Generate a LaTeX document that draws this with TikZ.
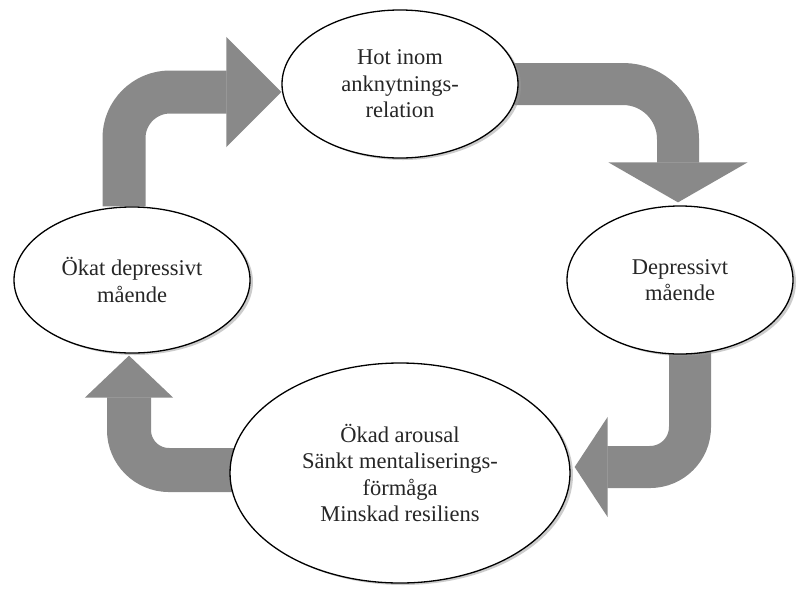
\documentclass[tikz,border=0pt]{standalone}
\usepackage{fontspec}
\setmainfont{Liberation Serif}
\usetikzlibrary{arrows.meta,shapes.geometric,shadows,backgrounds}
\definecolor{cycleGray}{HTML}{898989}
\definecolor{cycleInk}{HTML}{262626}
\definecolor{cycleShade}{HTML}{9A9A9A}

\begin{document}
\begin{tikzpicture}[x=1pt,y=-1pt,line join=round]
\useasboundingbox (0,0) rectangle (800,590);
\tikzset{state/.style={ellipse,draw=black,line width=1.3pt,fill=white,inner sep=0pt,align=center,text=cycleInk,font=\fontsize{22.5}{26.5}\selectfont,drop shadow={shadow xshift=3pt,shadow yshift=-2pt,fill=cycleShade,opacity=0.5}},loopshaft/.style={draw=cycleGray,line cap=butt,line join=miter}}
\node[state,minimum width=236pt,minimum height=148pt] (hot) at (400,84) {Hot inom\\anknytnings-\\relation};
\node[state,minimum width=226pt,minimum height=148pt] (dep) at (680,280) {Depressivt\\mående};
\node[state,minimum width=236pt,minimum height=146pt] (okat) at (132,280) {Ökat depressivt\\mående};
\node[state,minimum width=340pt,minimum height=220pt] (okad) at (400,473) {Ökad arousal\\Sänkt mentaliserings-\\förmåga\\Minskad resiliens};
\begin{scope}[on background layer]
\path[fill=white] (0,0) rectangle (800,590);
% block arrows round the cycle
\draw[loopshaft,line width=43pt,rounded corners=46pt,-{Triangle[width=110pt,length=55pt,line width=1.5pt]}] ([xshift=-8pt]okat.north) |- ([yshift=-8pt]hot.west);
\draw[loopshaft,line width=42pt,rounded corners=55pt,-{Triangle[width=139pt,length=40pt,line width=1.5pt]}] ([xshift=-6pt]hot.east) -| ([shift={(-2pt,3pt)}]dep.north);
\draw[loopshaft,line width=42pt,rounded corners=40pt,-{Triangle[width=100pt,length=33pt,line width=1.5pt]}] ([shift={(10pt,4pt)}]dep.south) |- ([shift={(4pt,6pt)}]okad.east);
\draw[loopshaft,line width=44pt,rounded corners=40pt,-{Triangle[width=88pt,length=42pt,line width=1.5pt]}] ([shift={(8pt,3pt)}]okad.west) -| ([shift={(-3pt,-2pt)}]okat.south);
\end{scope}
\end{tikzpicture}
\end{document}
